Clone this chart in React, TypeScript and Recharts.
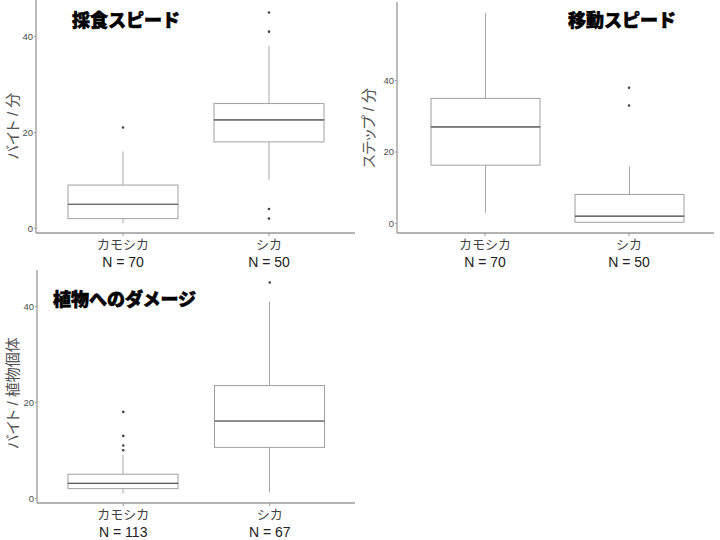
import React from 'react';
import { ComposedChart, Bar, Scatter, XAxis, YAxis } from 'recharts';

const categories = ['カモシカ', 'シカ'];
const yTicks = [0, 20, 40];

// Panel 1: 採食スピード (バイト / 分)
const feedN = [70, 50];
const feedLowWhisker = [1, 10];
const feedQ1 = [2, 18];
const feedMedian = [5, 22.6];
const feedQ3 = [9, 26];
const feedHighWhisker = [16, 38];
const feedOutliers = [[21], [45, 41, 4, 2]];

// Panel 2: 移動スピード (ステップ / 分)
const moveN = [70, 50];
const moveLowWhisker = [3, 0.3];
const moveQ1 = [16.3, 0.3];
const moveMedian = [27, 2];
const moveQ3 = [35, 8.1];
const moveHighWhisker = [59, 16];
const moveOutliers = [[], [38, 33]];

// Panel 3: 植物へのダメージ (バイト / 植物個体)
const damageN = [113, 67];
const damageLowWhisker = [1, 1.2];
const damageQ1 = [2, 10.6];
const damageMedian = [3.1, 16.1];
const damageQ3 = [5, 23.5];
const damageHighWhisker = [9, 41];
const damageOutliers = [[18, 13, 11, 10], [45]];

const AXIS = '#9a9a9a';
const BOX = '#a0a0a0';
const MEDIAN = '#5a5a5a';
const WHISKER = '#a8a8a8';
const DOT = '#444';
const outlierKeys = ['o0', 'o1', 'o2', 'o3'];

function buildRows(n: number[], lo: number[], q1: number[], med: number[], q3: number[], hi: number[], out: number[][]) {
  return categories.map((name, i) => {
    const row: any = {
      name,
      n: n[i],
      base: lo[i],
      lowW: q1[i] - lo[i],
      lowBox: med[i] - q1[i],
      upBox: q3[i] - med[i],
      upW: hi[i] - q3[i],
    };
    outlierKeys.forEach((k, j) => {
      row[k] = out[i][j] ?? null;
    });
    return row;
  });
}

const feedRows = buildRows(feedN, feedLowWhisker, feedQ1, feedMedian, feedQ3, feedHighWhisker, feedOutliers);
const moveRows = buildRows(moveN, moveLowWhisker, moveQ1, moveMedian, moveQ3, moveHighWhisker, moveOutliers);
const damageRows = buildRows(damageN, damageLowWhisker, damageQ1, damageMedian, damageQ3, damageHighWhisker, damageOutliers);

const Whisker = (p: any) => {
  if (p.height == null || Math.abs(p.height) < 0.01) return <g />;
  const cx = p.x + p.width / 2;
  return <line x1={cx} x2={cx} y1={p.y} y2={p.y + p.height} stroke={WHISKER} strokeWidth={1} />;
};

const LowerBox = (p: any) => (
  <rect x={p.x} y={p.y} width={p.width} height={Math.max(p.height, 0)} fill="#fff" stroke={BOX} strokeWidth={1} />
);

const UpperBox = (p: any) => (
  <g>
    <rect x={p.x} y={p.y} width={p.width} height={Math.max(p.height, 0)} fill="#fff" stroke={BOX} strokeWidth={1} />
    <line x1={p.x} x2={p.x + p.width} y1={p.y + p.height} y2={p.y + p.height} stroke={MEDIAN} strokeWidth={1.2} />
  </g>
);

const dotShape = (key: string) => (p: any) => {
  if (p.payload == null || p.payload[key] == null || p.cy == null || isNaN(p.cy)) return <g />;
  return <circle cx={p.cx} cy={p.cy} r={1.3} fill={DOT} />;
};

function makeTick(rows: any[]) {
  return (p: any) => {
    const row = rows.find((r) => r.name === p.payload.value);
    return (
      <g>
        <text x={p.x} y={p.y} dy={11} textAnchor="middle" fontSize={13} fill="#444" fontFamily="'Noto Sans CJK JP', sans-serif">
          {p.payload.value}
        </text>
        <text x={p.x} y={p.y} dy={29} textAnchor="middle" fontSize={14} fill="#222" fontFamily="'Liberation Sans', Arial, sans-serif">
          {`N = ${row ? row.n : ''}`}
        </text>
      </g>
    );
  };
}

function BoxPanel(props: {
  rows: any[];
  domain: [number, number];
  yAxisWidth: number;
  marginTop: number;
  marginRight: number;
  padLeft: number;
  padRight: number;
  barSize: number;
}) {
  const { rows, domain, yAxisWidth, marginTop, marginRight, padLeft, padRight, barSize } = props;
  return (
    <ComposedChart width={360} height={270} data={rows} margin={{ top: marginTop, right: marginRight, left: 0, bottom: 0 }}>
      <XAxis
        dataKey="name"
        height={37}
        interval={0}
        axisLine={{ stroke: AXIS, strokeWidth: 1.3 }}
        tickLine={{ stroke: AXIS }}
        tickSize={3}
        tickMargin={2}
        padding={{ left: padLeft, right: padRight }}
        tick={makeTick(rows)}
      />
      <YAxis
        type="number"
        domain={domain}
        ticks={yTicks}
        allowDataOverflow
        width={yAxisWidth}
        axisLine={{ stroke: AXIS, strokeWidth: 1.3 }}
        tickLine={{ stroke: AXIS }}
        tickSize={2}
        tickMargin={1}
        tick={{ fontSize: 9.5, fill: '#4d4d4d', fontFamily: "'Liberation Sans', Arial, sans-serif" }}
      />
      <Bar dataKey="base" stackId="b" fill="transparent" barSize={barSize} isAnimationActive={false} />
      <Bar dataKey="lowW" stackId="b" shape={Whisker} barSize={barSize} isAnimationActive={false} />
      <Bar dataKey="lowBox" stackId="b" shape={LowerBox} barSize={barSize} isAnimationActive={false} />
      <Bar dataKey="upBox" stackId="b" shape={UpperBox} barSize={barSize} isAnimationActive={false} />
      <Bar dataKey="upW" stackId="b" shape={Whisker} barSize={barSize} isAnimationActive={false} />
      {outlierKeys.map((k) => (
        <Scatter key={k} dataKey={k} shape={dotShape(k)} isAnimationActive={false} />
      ))}
    </ComposedChart>
  );
}

const titleStyle: React.CSSProperties = {
  position: 'absolute',
  fontFamily: "'Noto Sans CJK JP', sans-serif",
  fontWeight: 900,
  fontSize: 18,
  lineHeight: '18px',
  color: '#000',
  whiteSpace: 'nowrap',
  WebkitTextStroke: '0.6px #000',
};

const yLabelStyle = (cx: number, cy: number): React.CSSProperties => ({
  position: 'absolute',
  left: cx,
  top: cy,
  transform: 'translate(-50%, -50%) rotate(-90deg)',
  fontFamily: "'Liberation Sans', 'Noto Sans CJK JP', sans-serif",
  fontSize: 15,
  lineHeight: '15px',
  color: '#555',
  whiteSpace: 'nowrap',
  fontFeatureSettings: '"palt"',
});

export default function App() {
  return (
    <div style={{ position: 'absolute', left: 0, top: 0, width: 720, height: 540, background: '#fff', overflow: 'hidden' }}>
      <div style={{ position: 'absolute', left: 0, top: 0 }}>
        <BoxPanel rows={feedRows} domain={[-1, 47.6]} yAxisWidth={36} marginTop={0} marginRight={5} padLeft={14} padRight={13} barSize={110} />
      </div>
      <div style={{ position: 'absolute', left: 360, top: 0 }}>
        <BoxPanel rows={moveRows} domain={[-2.7, 62]} yAxisWidth={37} marginTop={2} marginRight={6} padLeft={16} padRight={13} barSize={109} />
      </div>
      <div style={{ position: 'absolute', left: 0, top: 270 }}>
        <BoxPanel rows={damageRows} domain={[-1, 47.6]} yAxisWidth={37} marginTop={0} marginRight={5} padLeft={13} padRight={12} barSize={110} />
      </div>

      <div style={{ ...titleStyle, left: 72, top: 10 }}>採食スピード</div>
      <div style={{ ...titleStyle, left: 568, top: 10 }}>移動スピード</div>
      <div style={{ ...titleStyle, left: 53, top: 289 }}>植物へのダメージ</div>

      <div style={yLabelStyle(12, 126)}>バイト / 分</div>
      <div style={yLabelStyle(368, 128)}>ステップ / 分</div>
      <div style={yLabelStyle(12, 393)}>バイト / 植物個体</div>
    </div>
  );
}
